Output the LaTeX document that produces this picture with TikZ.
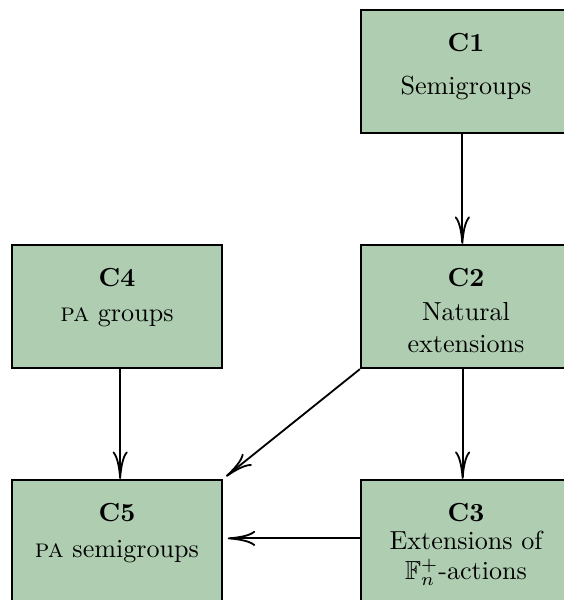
\documentclass[tikz,border=0pt]{standalone}
\usepackage{amsmath}
\usepackage{amssymb}
\usetikzlibrary{arrows.meta}
\definecolor{boxgreen}{RGB}{175,205,177}

\begin{document}
\begin{tikzpicture}[x=0.3831pt,y=-0.3831pt,
  chapter/.style={draw,line width=0.9pt,fill=boxgreen,minimum width=80.4pt,minimum height=47.1pt,inner sep=0pt},
  title/.style={anchor=north,align=center,inner sep=0pt,yshift=-9.3pt},
  dep/.style={line width=0.7pt,-{To[length=10.5pt,width=5.8pt]}}]
\useasboundingbox (0,0) rectangle (563,600);
\node[chapter,label={[title]north:{\textbf{C1}\\[4.5pt]Semigroups}}] (c1) at (466,71.5) {};
\node[chapter,label={[title]north:{\textbf{C2}\\[1pt]Natural\\extensions}}] (c2) at (466,306.5) {};
\node[chapter,label={[title]north:{\textbf{C4}\\[1.4pt]\textsc{pa} groups}}] (c4) at (117,306.5) {};
\node[chapter,label={[title]north:{\textbf{C5}\\[1.8pt]\textsc{pa} semigroups}}] (c5) at (117,541.5) {};
\node[chapter,label={[title]north:{\textbf{C3}\\[-1.3pt]Extensions of\\[-0.6pt]$\mathbb{F}_n^+$-actions}}] (c3) at (466,541.5) {};
\draw[dep] ([xshift=-1.4pt]c1.south) -- ([xshift=-1.4pt]c2.north);
\draw[dep] ([xshift=-1.3pt]c2.south) -- ([xshift=-1.3pt]c3.north);
\draw[dep] ([xshift=1.2pt]c4.south) -- ([xshift=1.2pt]c5.north);
\draw[dep,shorten >=1.5pt] (c2.south west) -- (c5.north east);
\draw[dep,shorten >=1.8pt] ([yshift=1.2pt]c3.west) -- ([yshift=1.2pt]c5.east);
\end{tikzpicture}
\end{document}
